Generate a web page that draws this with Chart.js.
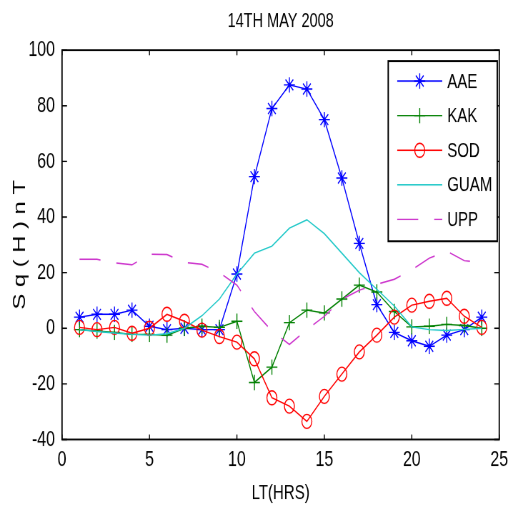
<!DOCTYPE html>
<html lang="en">
<head>
    <meta charset="UTF-8">
    <title>14TH MAY 2008</title>
    <script src="https://cdn.jsdelivr.net/npm/chart.js"></script>
    <style>
        html, body {
            margin: 0;
            padding: 0;
            background-color: #fff;
            overflow: hidden;
        }
        #wrap {
            width: 513px;
            height: 509px;
        }
        /* the original figure is stretched vertically, so the chart is drawn flat and stretched */
        canvas {
            transform: scaleY(1.3984);
            transform-origin: 0 0;
        }
    </style>
</head>
<body>
    <div id="wrap"><canvas id="myChart" width="513" height="364"></canvas></div>

    <script>
        // Dados: hora local 1..24
        const hours = [1, 2, 3, 4, 5, 6, 7, 8, 9, 10, 11, 12, 13, 14, 15, 16, 17, 18, 19, 20, 21, 22, 23, 24];
        const aae  = [4, 5, 5, 6.5, 0.7, -0.5, 0, -0.5, -0.5, 19.5, 54.5, 79, 87.5, 86, 75, 54, 30.5, 8.5, -1.5, -4.5, -6.5, -2.5, -0.5, 4];
        const kak  = [-0.5, -1, -1.5, -2.2, -2.2, -2.5, 0, 0.7, 0.3, 2.5, -19.5, -14, 2, 6.5, 5.5, 10.5, 15.5, 13, 6, 0.5, 0.7, 1.4, 1, 0];
        const sod  = [0.3, -0.5, 0.3, -1.8, 0, 5, 2.5, -0.7, -3, -5, -11, -25, -28, -33.5, -24.5, -16.5, -8.5, -2.5, 4, 8.3, 9.7, 10.8, 4.3, 0.3];
        const guam = [-0.5, -1.2, -1.7, -2.2, -2.5, -2, 0, 4.5, 10.5, 19.5, 27, 29.5, 36, 39, 34, 27, 20, 14, 8, 0.5, -0.5, -0.8, -0.4, 0];
        const upp  = [24.8, 24.8, 23.5, 22.8, 26.6, 26.5, 23.7, 23, 20, 15.5, 6, -1, -5.8, -0.5, 4.3, 10.4, 13.7, 15.8, 17.6, 21, 25.2, 27.7, 24.3, 23.7];

        const xTicks = [0, 5, 10, 15, 20, 25];
        const yTicks = [-40, -20, 0, 20, 40, 60, 80, 100];
        const chartTitle = '14TH MAY 2008';

        const toPoints = (vals) => vals.map((v, i) => ({ x: hours[i], y: v }));
        const FONT = '"Liberation Sans", Arial, sans-serif';

        // título centrado sobre a área do gráfico
        const topTitle = {
            id: 'topTitle',
            afterDraw(chart) {
                const { ctx, chartArea: a } = chart;
                ctx.save();
                ctx.fillStyle = '#000';
                ctx.font = '14.5px ' + FONT;
                ctx.textAlign = 'center';
                ctx.textBaseline = 'middle';
                ctx.fillText(chartTitle, (a.left + a.right) / 2, 15);
                ctx.restore();
            }
        };

        // caixa do gráfico e ticks para dentro (estilo MATLAB)
        const boxTicks = {
            id: 'boxTicks',
            afterDatasetsDraw(chart) {
                const { ctx, chartArea: a, scales: { x, y } } = chart;
                ctx.save();
                ctx.strokeStyle = '#000';
                ctx.lineWidth = 1;
                ctx.beginPath();
                x.ticks.forEach(t => {
                    const px = x.getPixelForValue(t.value);
                    ctx.moveTo(px, a.bottom); ctx.lineTo(px, a.bottom - 3.6);
                    ctx.moveTo(px, a.top); ctx.lineTo(px, a.top + 3.6);
                });
                y.ticks.forEach(t => {
                    const py = y.getPixelForValue(t.value);
                    ctx.moveTo(a.left, py); ctx.lineTo(a.left + 5, py);
                    ctx.moveTo(a.right, py); ctx.lineTo(a.right - 5, py);
                });
                ctx.stroke();
                ctx.lineWidth = 1.3;
                ctx.strokeRect(a.left, a.top, a.right - a.left, a.bottom - a.top);
                ctx.restore();
            }
        };

        // legenda dentro do gráfico, canto superior direito
        const insideLegend = {
            id: 'insideLegend',
            afterDraw(chart) {
                const { ctx, chartArea: a } = chart;
                const w = 109, h = 128.7;
                const left = a.right - 2 - w, top = a.top + 7.8;
                ctx.save();
                ctx.fillStyle = '#fff';
                ctx.fillRect(left, top, w, h);
                ctx.strokeStyle = '#000';
                ctx.lineWidth = 1.4;
                ctx.strokeRect(left, top, w, h);
                ctx.font = '15px ' + FONT;
                ctx.textBaseline = 'middle';
                chart.data.datasets.forEach((ds, i) => {
                    const cy = top + 14.3 + i * 24.7;
                    ctx.strokeStyle = ds.borderColor;
                    ctx.lineWidth = 1;
                    ctx.setLineDash(ds.borderDash || []);
                    ctx.beginPath();
                    ctx.moveTo(left + 9, cy);
                    ctx.lineTo(left + 54, cy);
                    ctx.stroke();
                    ctx.setLineDash([]);
                    if (ds.pointRadius > 0 && Chart.helpers && Chart.helpers.drawPoint) {
                        ctx.fillStyle = 'rgba(0,0,0,0)';
                        Chart.helpers.drawPoint(ctx, {
                            pointStyle: ds.pointStyle,
                            rotation: 0,
                            radius: ds.pointRadius,
                            borderWidth: 1
                        }, left + 31.5, cy);
                    }
                    ctx.fillStyle = '#000';
                    ctx.fillText(ds.label, left + 59, cy + 0.5);
                });
                ctx.restore();
            }
        };

        const ctx = document.getElementById('myChart').getContext('2d');

        const myChart = new Chart(ctx, {
            type: 'line',
            data: {
                datasets: [
                    {
                        label: 'AAE',
                        data: toPoints(aae),
                        borderColor: '#0000ff',
                        backgroundColor: 'rgba(0,0,0,0)',
                        pointStyle: 'star',
                        pointRadius: 5.5,
                        order: 5
                    },
                    {
                        label: 'KAK',
                        data: toPoints(kak),
                        borderColor: '#008000',
                        backgroundColor: 'rgba(0,0,0,0)',
                        pointStyle: 'cross',
                        pointRadius: 5.5,
                        order: 4
                    },
                    {
                        label: 'SOD',
                        data: toPoints(sod),
                        borderColor: '#ff0000',
                        backgroundColor: 'rgba(0,0,0,0)',
                        pointStyle: 'circle',
                        pointRadius: 5,
                        order: 3
                    },
                    {
                        label: 'GUAM',
                        data: toPoints(guam),
                        borderColor: '#20c8c8',
                        backgroundColor: 'rgba(0,0,0,0)',
                        pointRadius: 0,
                        order: 2
                    },
                    {
                        label: 'UPP',
                        data: toPoints(upp),
                        borderColor: '#cc33cc',
                        backgroundColor: 'rgba(0,0,0,0)',
                        borderDash: [21, 16],
                        pointRadius: 0,
                        order: 1
                    }
                ]
            },
            options: {
                responsive: false,
                animation: false,
                devicePixelRatio: 1.4,
                layout: { padding: { left: 0, right: 7, top: 35.8, bottom: 0 } },
                elements: {
                    line: { borderWidth: 1, tension: 0, fill: false },
                    point: { borderWidth: 1, hoverRadius: 5 }
                },
                plugins: {
                    legend: { display: false },
                    tooltip: { enabled: false },
                    title: { display: false }
                },
                scales: {
                    x: {
                        type: 'linear',
                        min: 0,
                        max: 25,
                        afterBuildTicks: (s) => { s.ticks = xTicks.map(v => ({ value: v })); },
                        afterFit: (s) => { s.height = 50.1; },
                        grid: { display: false, drawTicks: false },
                        border: { display: false },
                        ticks: {
                            color: '#000',
                            padding: 5,
                            maxRotation: 0,
                            font: { family: FONT, size: 16 }
                        },
                        title: {
                            display: true,
                            text: 'LT(HRS)',
                            color: '#000',
                            font: { family: FONT, size: 15 },
                            padding: { top: 0, bottom: 2.6 }
                        }
                    },
                    y: {
                        min: -40,
                        max: 100,
                        afterBuildTicks: (s) => { s.ticks = yTicks.map(v => ({ value: v })); },
                        afterFit: (s) => { s.width = 62; },
                        grid: { display: false, drawTicks: false },
                        border: { display: false },
                        ticks: {
                            color: '#000',
                            padding: 7,
                            font: { family: FONT, size: 16 }
                        },
                        title: {
                            display: true,
                            text: 'S q ( H ) n T',
                            color: '#000',
                            font: { family: FONT, size: 17 },
                            padding: { top: 9.8, bottom: 0 }
                        }
                    }
                }
            },
            plugins: [boxTicks, insideLegend, topTitle]
        });
    </script>
</body>
</html>
